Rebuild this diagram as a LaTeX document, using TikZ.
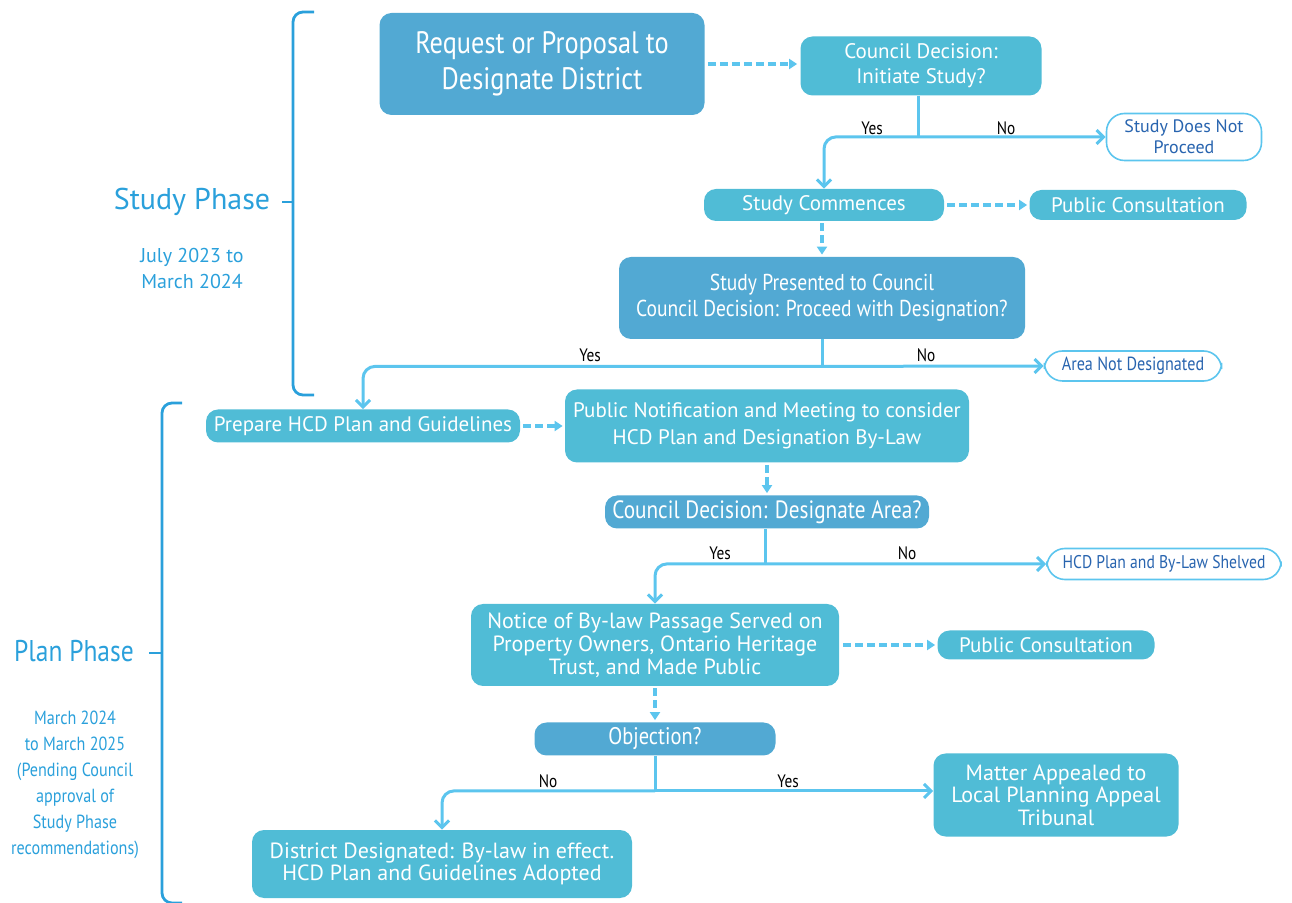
\documentclass[tikz,border=0pt]{standalone}
\usepackage{fontspec}
\setmainfont{PT Sans}
\newfontfamily\condfont[FakeStretch=0.85]{PT Sans}
\usetikzlibrary{arrows.meta,positioning,calc}
\definecolor{hcddark}{RGB}{82,169,211}
\definecolor{hcdlight}{RGB}{80,188,214}
\definecolor{hcdline}{RGB}{92,197,238}
\definecolor{hcdphase}{RGB}{42,160,219}
\definecolor{hcdtext}{RGB}{40,100,175}

\begin{document}
\begin{tikzpicture}[x=0.5pt, y=-0.5pt, font=\fontsize{10.5}{12}\selectfont]
	\tikzstyle{box} = [rectangle, rounded corners=6pt, align=center, text=white, inner sep=1pt]
	\tikzstyle{darkbox} = [box, fill=hcddark]
	\tikzstyle{lightbox} = [box, fill=hcdlight]
	\tikzstyle{outcome} = [rectangle, rounded corners=9pt, draw=hcdline, line width=0.8pt, fill=white, text=hcdtext, align=center, inner sep=1pt]
	\tikzstyle{flow} = [draw=hcdline, line width=1.5pt, rounded corners=6pt]
	\tikzstyle{yesno} = [-{Straight Barb[length=3.5pt,width=7pt]}]
	\tikzstyle{dashflow} = [draw=hcdline, line width=2pt, dash pattern=on 4pt off 2pt, -{Triangle[length=4pt,width=5pt]}]
	\tikzstyle{answer} = [font=\condfont\fontsize{9}{10}\selectfont, text=black]
	\tikzstyle{bracket} = [draw=hcdphase, line width=1.4pt, rounded corners=5pt]
	\tikzstyle{phase} = [text=hcdphase, align=center]
	\useasboundingbox (0,0) rectangle (1292,903);

	% study phase
	\node (req) [darkbox, minimum width=162.5pt, minimum height=51pt, font=\condfont\fontsize{15.5}{18}\selectfont] at (542,64) {Request or Proposal to\\Designate District};
	\node (cdi) [lightbox, minimum width=120.5pt, minimum height=29.5pt, font=\fontsize{10.5}{12.5}\selectfont] at (921,66) {Council Decision:\\Initiate Study?};
	\node (sdnp) [outcome, minimum width=77.5pt, minimum height=23.5pt, font=\fontsize{9}{10.5}\selectfont] at (1184,137) {Study Does Not\\Proceed};
	\node (sc) [lightbox, minimum width=120pt, minimum height=16pt] at (824,205) {Study Commences};
	\node (pc1) [lightbox, minimum width=108.5pt, minimum height=15pt] at (1138,205) {Public Consultation};
	\node (spc) [darkbox, minimum width=203pt, minimum height=41pt, font=\condfont\fontsize{11.5}{13}\selectfont] at (822,298) {Study Presented to Council\\Council Decision: Proceed with Designation?};
	\node (and) [outcome, minimum width=88.5pt, minimum height=15pt, font=\condfont\fontsize{9.5}{10}\selectfont] at (1133,366) {Area Not Designated};

	% plan phase
	\node (prep) [lightbox, minimum width=157pt, minimum height=16.5pt] at (363,426) {Prepare HCD Plan and Guidelines};
	\node (pn) [lightbox, minimum width=202pt, minimum height=36.5pt, font=\fontsize{10.5}{13.5}\selectfont] at (767,426) {Public Notification and Meeting to consider\\HCD Plan and Designation By-Law};
	\node (cda) [darkbox, minimum width=162pt, minimum height=16.5pt, font=\condfont\fontsize{12.5}{14}\selectfont] at (767,512) {Council Decision: Designate Area?};
	\node (shelved) [outcome, minimum width=117pt, minimum height=15.5pt, font=\condfont\fontsize{9.2}{10}\selectfont] at (1164,564) {HCD Plan and By-Law Shelved};
	\node (notice) [lightbox, minimum width=184pt, minimum height=41pt, font=\fontsize{11}{11.5}\selectfont] at (655,645) {Notice of By-law Passage Served on\\Property Owners, Ontario Heritage\\Trust, and Made Public};
	\node (pc2) [lightbox, minimum width=108.5pt, minimum height=14.5pt] at (1046,645) {Public Consultation};
	\node (obj) [darkbox, minimum width=120.5pt, minimum height=16.5pt, font=\condfont\fontsize{12}{14}\selectfont] at (655,739) {Objection?};
	\node (matter) [lightbox, minimum width=122.5pt, minimum height=41.5pt, font=\fontsize{11}{11.25}\selectfont] at (1056,795) {Matter Appealed to\\Local Planning Appeal\\Tribunal};
	\node (dd) [lightbox, minimum width=190pt, minimum height=34pt, font=\fontsize{11}{11}\selectfont] at (442,864) {District Designated: By-law in effect.\\HCD Plan and Guidelines Adopted};

	% phase labels
	\node (studyph) [phase, font=\fontsize{15}{18}\selectfont] at (192,202) {Study Phase};
	\node (studydate) [phase, font=\fontsize{10}{13}\selectfont] at (192,269) {July 2023 to\\March 2024};
	\node (planph) [phase, font=\condfont\fontsize{15}{18}\selectfont] at (74,651) {Plan Phase};
	\node (plandate) [phase, font=\condfont\fontsize{9.5}{13}\selectfont] at (75,785) {March 2024\\to March 2025\\(Pending Council\\approval of\\Study Phase\\recommendations)};

	\draw [bracket] (314,12) -- (293,12) -- (293,395) -- (314,395);
	\draw [bracket] (studyph.east) ++(5,0) -- (293,202);
	\draw [bracket] (182,403) -- (162,403) -- (162,903) -- (182,903);
	\draw [bracket] (planph.east) ++(8,2) -- (162,653);

	% junctions
	\coordinate (j1) at ($(cdi.south)+(-3,41)$);
	\coordinate (j2) at ($(spc.south)+(0,27)$);
	\coordinate (j3) at ($(cda.south)+(-2,35)$);
	\coordinate (j4) at ($(obj.south)+(0,35)$);

	\draw [dashflow] (req.east) ++(3,0) -- ($(cdi.west)+(-3,-2)$);
	\draw [flow] ($(cdi.south)+(-3,0)$) -- (j1);
	\draw [flow, yesno] (j1) -| (sc.north);
	\draw [flow, yesno] (j1) -- (sdnp.west);
	\node at ($(j1)+(-46,-9)$) [answer] {Yes};
	\node at ($(j1)+(88,-9)$) [answer] {No};

	\draw [dashflow] (sc.east) ++(3,0) -- ($(pc1.west)+(-2,0)$);
	\draw [dashflow] ($(sc.south)+(-2,2)$) -- ($(spc.north)+(0,-2)$);
	\draw [flow] (spc.south) -- (j2);
	\draw [flow, yesno] (j2) -| (prep.north);
	\draw [flow, yesno] (j2) -- (and.west);
	\node at ($(j2)+(-232,-11)$) [answer] {Yes};
	\node at ($(j2)+(104,-11)$) [answer] {No};

	\draw [dashflow] (prep.east) ++(3,0) -- ($(pn.west)+(-2,0)$);
	\draw [dashflow] ($(pn.south)+(0,2)$) -- ($(cda.north)+(0,-2)$);
	\draw [flow] ($(cda.south)+(-2,0)$) -- (j3);
	\draw [flow, yesno] (j3) -| (notice.north);
	\draw [flow, yesno] (j3) -- (shelved.west);
	\node at ($(j3)+(-45,-11)$) [answer] {Yes};
	\node at ($(j3)+(142,-11)$) [answer] {No};

	\draw [dashflow] (notice.east) ++(4,0) -- ($(pc2.west)+(-2,0)$);
	\draw [dashflow] ($(notice.south)+(0,2)$) -- ($(obj.north)+(0,-2)$);
	\draw [flow] (obj.south) -- (j4);
	\draw [flow, yesno] (j4) -| (dd.north);
	\draw [flow, yesno] (j4) -- (matter.west |- j4);
	\node at ($(j4)+(-107,-10)$) [answer] {No};
	\node at ($(j4)+(133,-10)$) [answer] {Yes};
\end{tikzpicture}
\end{document}
